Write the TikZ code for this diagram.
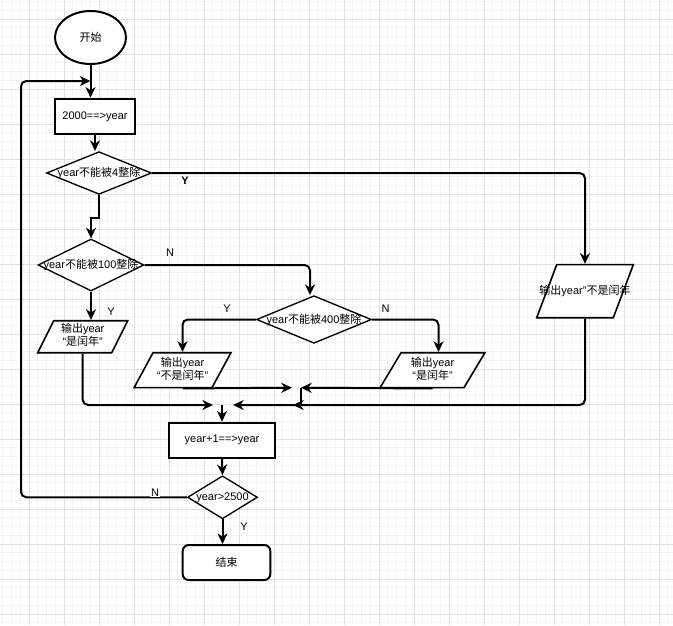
\documentclass[tikz,border=0pt]{standalone}
\usepackage{fontspec}
\setmainfont{Liberation Sans}
\newfontfamily\cjk{Noto Sans CJK SC}
\usepackage{tikz}
\usetikzlibrary{arrows.meta,shapes.geometric}
\definecolor{gridminor}{HTML}{F2F2F2}
\definecolor{gridmajor}{HTML}{E0E0E0}
\newcommand{\zh}[1]{{\cjk #1}}
\newcommand{\nowidth}[1]{\makebox[0pt]{#1}}
\newcommand{\twolines}[2]{\begin{tabular}{@{}c@{}}#1\\#2\end{tabular}}
\tikzset{
  every node/.style={font=\fontsize{8.25}{9.5}\selectfont},
  startstop/.style={ellipse,draw,fill=white,line width=1.5pt,inner sep=0pt},
  procbox/.style={rectangle,draw,fill=white,line width=1.5pt,inner sep=0pt},
  endbox/.style={rectangle,rounded corners=4.5pt,draw,fill=white,line width=1.5pt,inner sep=0pt},
  decis/.style={diamond,draw,fill=white,line width=1pt,inner sep=0pt},
  iobox/.style={trapezium,draw,fill=white,line width=1.2pt,trapezium left angle=#1,trapezium right angle=180-#1},
  link/.style={line width=1.5pt,-{Stealth[length=8pt,width=7.5pt,inset=2.5pt]},rounded corners=4pt},
  lbl/.style={inner sep=1pt}
}

\begin{document}
\begin{tikzpicture}[x=0.75pt,y=-0.75pt]
\useasboundingbox (0,0) rectangle (673,625);
\fill[white] (0,0) rectangle (673,625);
% grid
\foreach \k in {0,...,76} \draw[gridminor,line width=0.75pt] (2.75+8.75*\k,0) -- (2.75+8.75*\k,625);
\foreach \k in {0,...,71} \draw[gridminor,line width=0.75pt] (0,1.5+8.75*\k) -- (673,1.5+8.75*\k);
\foreach \k in {0,...,18} \draw[gridmajor,line width=0.75pt] (29+35*\k,0) -- (29+35*\k,625);
\foreach \k in {0,...,17} \draw[gridmajor,line width=0.75pt] (0,19+35*\k) -- (673,19+35*\k);
%
\node (start) [startstop,minimum width=53.25pt,minimum height=39.75pt] at (90.5,37.5) {\zh{开始}};
\node (init) [procbox,minimum width=60pt,minimum height=26.7pt] at (95,116.5) {2000==>year};
\node (d4) [decis,minimum width=78.75pt,minimum height=32pt] at (99,173) {\nowidth{year\zh{不能被}4\zh{整除}}};
\node (d100) [decis,minimum width=79.5pt,minimum height=39pt] at (91,265) {\nowidth{year\zh{不能被}100\zh{整除}}};
\node (d400) [decis,minimum width=86.25pt,minimum height=35.7pt] at (314,319.5) {\nowidth{year\zh{不能被}400\zh{整除}}};
\node (pY100) [iobox=63.43,inner xsep=21.75pt,inner ysep=12pt,
  label={center:{\twolines{\zh{输出}year}{“\zh{是闰年}”}}}] at (82.7,336.7) {};
\node (pY400) [iobox=61.5,inner xsep=22.1pt,inner ysep=13.1pt,
  label={center:{\twolines{\zh{输出}year}{“\zh{不是闰年}”}}}] at (182.5,370.2) {};
\node (pN400) [iobox=59.04,inner xsep=23.6pt,inner ysep=13.1pt,
  label={center:{\twolines{\zh{输出}year}{“\zh{是闰年}”}}}] at (432.5,370.2) {};
\node (pY4) [iobox=69.3,inner xsep=21.2pt,inner ysep=19.9pt,
  label={center:{\zh{输出}year"\zh{不是闰年}}}] at (585,291.2) {};
\node (inc) [procbox,minimum width=79.3pt,minimum height=26.5pt] at (222,440.3) {year+1==>year};
\node (d2500) [decis,minimum width=52.5pt,minimum height=32.25pt] at (222.5,497.3) {\nowidth{year>2500}};
\node (stop) [endbox,minimum width=65.7pt,minimum height=26.25pt] at (226.5,562.5) {\zh{结束}};
%
\coordinate (top) at (90.5,81);
\coordinate (loopB) at (21,497.3);
\coordinate (loopT) at (21,81);
\coordinate (jL) at (292,387.7);
\coordinate (jR) at (301,387.7);
\coordinate (jB) at (293,405);
\coordinate (mergeL) at (213,405);
\coordinate (mergeR) at (233,405);
\coordinate (join) at (222,405);
%
\draw[link] (start.south) -- (start.south |- init.north);
\draw[link] (d2500.west) -- (loopB) -- (loopT) -- (top);
\draw[link] (init.south) -- (init.south |- d4.north);
\draw[link] (d4.east) -| (pY4.north);
\draw[link,rounded corners=0pt] (d4.south) -- ++(0,22.5) -| (d100.north);
\draw[link] (d100.east) -| ([xshift=-3pt]d400.north);
\draw[link] (d100.south) -- (d100.south |- pY100.north);
\draw[link] (d400.west) -| (pY400.north);
\draw[link] (d400.east) -| ([xshift=4.5pt]pN400.north);
\draw[link] (pY100.south) |- (mergeL);
\draw[link] (pY400.south) -- (jL);
\draw[link] (pN400.south) -- (jR);
\draw[link,rounded corners=0pt] (jR) |- (jB);
\draw[link] (pY4.south) |- (mergeR);
\draw[link] (join) -- (inc.north);
\draw[link] (inc.south) -- (d2500.north);
\draw[link] (d2500.south) -- (d2500.south |- stop.north);
% labels
\node (l4) [lbl,font=\fontsize{8.25}{9.5}\selectfont\bfseries] at (185,180.5) {Y};
\node (l100n) [lbl] at (170,253) {N};
\node (l100y) [lbl] at (111,311.5) {Y};
\node (l400y) [lbl] at (227,308.5) {Y};
\node (l400n) [lbl] at (385.7,308.5) {N};
\node (l2500n) [lbl,fill=white,inner sep=0.5pt] at (155,493) {N};
\node (l2500y) [lbl] at (244,527) {Y};
\end{tikzpicture}
\end{document}
